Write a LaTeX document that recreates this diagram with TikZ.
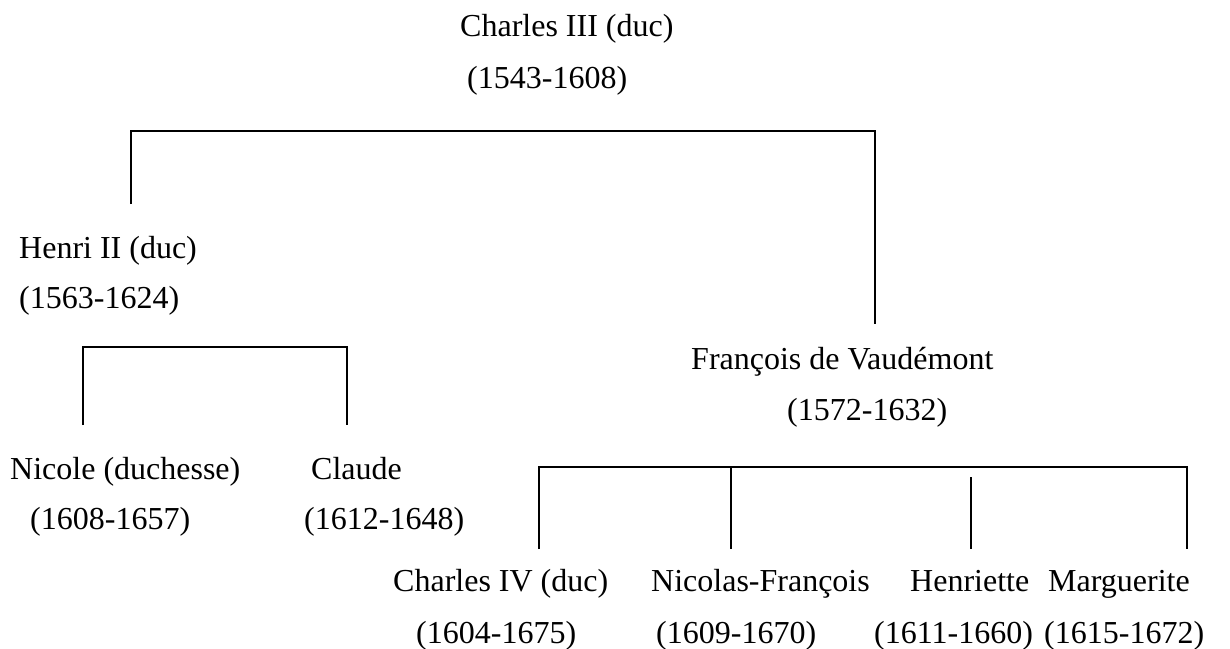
\documentclass[tikz,border=0pt]{standalone}
\usepackage{fontspec}
\setmainfont{Liberation Serif}
\begin{document}
\begin{tikzpicture}[x=1pt,y=-1pt,
  lbl/.style={anchor=base west,inner sep=0pt,font=\fontsize{32}{38}\selectfont},
  tree/.style={line width=1.8pt,line join=miter}]
\useasboundingbox (0,0) rectangle (1230,648);
% texts
\node[lbl] (c3) at (460,36) {Charles III (duc)};
\node[lbl] (c3y) at (467,88) {(1543-1608)};
\node[lbl] (h2) at (19,258) {Henri II (duc)};
\node[lbl] (h2y) at (19,308) {(1563-1624)};
\node[lbl] (nic) at (10,479) {Nicole (duchesse)};
\node[lbl] (nicy) at (30,529) {(1608-1657)};
\node[lbl] (cla) at (311,479) {Claude};
\node[lbl] (clay) at (304,529) {(1612-1648)};
\node[lbl] (fra) at (691,369) {François de Vaudémont};
\node[lbl] (fray) at (787,420) {(1572-1632)};
\node[lbl] (c4) at (393,591) {Charles IV (duc)};
\node[lbl] (c4y) at (416,643) {(1604-1675)};
\node[lbl] (nf) at (651,591) {Nicolas-François};
\node[lbl] (nfy) at (656,643) {(1609-1670)};
\node[lbl] (hen) at (910,591) {Henriette};
\node[lbl] (heny) at (874,643) {(1611-1660)};
\node[lbl] (mar) at (1048,591) {Marguerite};
\node[lbl] (mary) at (1044,643) {(1615-1672)};
% connector end points
\coordinate (t1) at (130.7,204);
\coordinate (t2) at (875,324);
\coordinate (a1) at (82.7,425);
\coordinate (a2) at (347,425);
\coordinate (b1) at (539,549);
\coordinate (b2) at (731,549);
\coordinate (b3top) at (971.3,477);
\coordinate (b3) at (971.3,549);
\coordinate (b4) at (1187,549);
% connectors
\draw[tree] (t1) |- (875,130.7) -- (t2);
\draw[tree] (a1) |- (347,347.3) -- (a2);
\draw[tree] (b1) |- (1187,467.3) -- (b4);
\draw[tree] (731,467.3) -- (b2);
\draw[tree] (b3top) -- (b3);
\end{tikzpicture}
\end{document}
